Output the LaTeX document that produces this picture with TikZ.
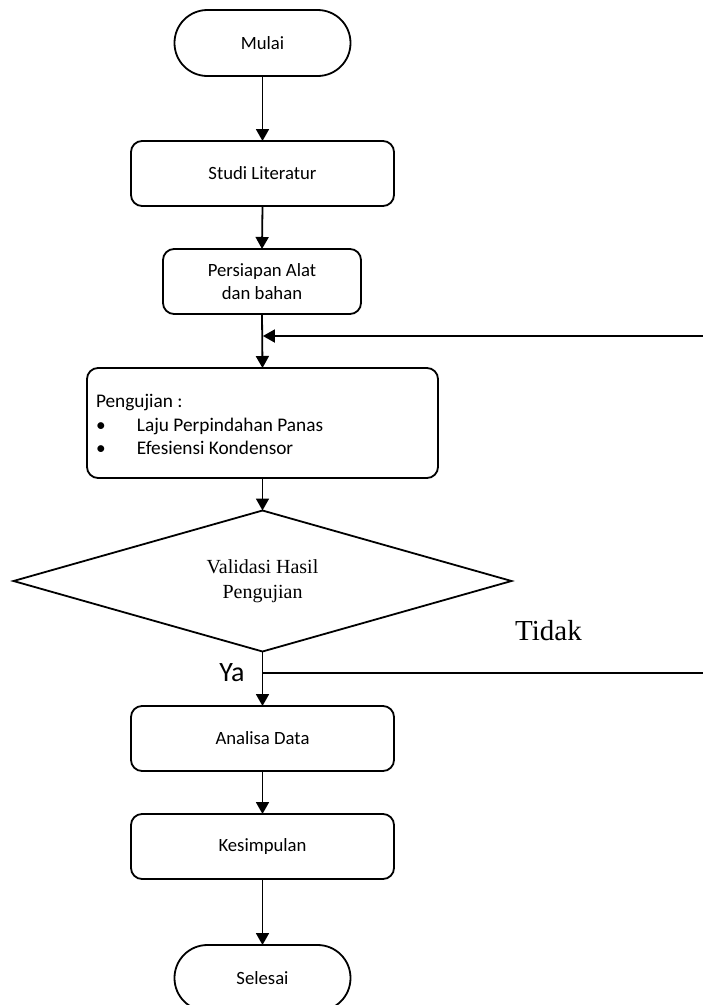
\documentclass[tikz,border=0pt]{standalone}
\usepackage{fontspec}
\setmainfont{Carlito}
\newfontfamily\timesf{Liberation Serif}
\usetikzlibrary{arrows.meta,shapes.geometric}
\tikzset{
  every node/.style={inner sep=0pt, outer sep=0pt},
  ln/.style={line width=1.8pt, draw=black},
  arr/.style={ln, -{Triangle[length=12pt,width=13pt]}},
  term/.style={draw, line width=1.8pt, rectangle, rounded corners=32.9pt, minimum width=176pt, minimum height=66pt, align=center, font=\fontsize{18.7}{23}\selectfont},
  proc/.style={draw, line width=1.8pt, rectangle, rounded corners=11pt, align=center, font=\fontsize{18.7}{23}\selectfont},
  dec/.style={draw, line width=1.8pt, diamond, minimum width=498pt, minimum height=141pt},
  dectext/.style={align=center, font=\timesf\fontsize{20}{25}\selectfont},
}
\begin{document}
\begin{tikzpicture}[x=1pt,y=-1pt]
\useasboundingbox (0,0) rectangle (703,1005);
\node[term] (mulai) at (262.5,43) {Mulai};
\node[proc, minimum width=263pt, minimum height=65pt] (studi) at (262.5,173.5) {Studi Literatur};
\node[proc, minimum width=198pt, minimum height=65pt] (pers) at (262,281.5) {Persiapan Alat\\dan bahan};
\node[proc, minimum width=351pt, minimum height=110pt] (peng) at (262.5,423) {};
\node[anchor=west, align=left, font=\fontsize{19.3}{23.3}\selectfont] (pengtxt) at ([xshift=9pt,yshift=-1.5pt]peng.west) {Pengujian :\\\makebox[41pt][l]{\textbullet}Laju Perpindahan Panas\\\makebox[41pt][l]{\textbullet}Efesiensi Kondensor};
\node[dec] (val) at (262.5,581) {};
\node[dectext] (valtxt) at (val.center) {Validasi Hasil\\Pengujian};
\node[proc, minimum width=263pt, minimum height=65pt] (anal) at (262.5,738.5) {Analisa Data};
\node[proc, minimum width=263pt, minimum height=65pt] (kes) at (262.5,846.5) {Kesimpulan};
\node[term] (sel) at (262.5,978) {Selesai};
\coordinate (r1) at (703,336);
\coordinate (r2) at (703,673);
\node[font=\fontsize{28}{30}\selectfont] (ya) at (232,673) {Ya};
\node[font=\timesf\fontsize{29}{31}\selectfont] (tidak) at (548.5,631) {Tidak};
\draw[arr] (mulai.south) -- (studi.north);
\draw[arr] (studi.south) -- (pers.north);
\draw[arr] (pers.south) -- (peng.north);
\draw[arr] (r1) -- ([xshift=0.9pt]r1 -| pers.south);
\draw[arr] (peng.south) -- (val.north);
\draw[arr] (val.south) -- (anal.north);
\draw[ln] (val.south |- r2) -- (r2);
\draw[arr] (anal.south) -- (kes.north);
\draw[arr] (kes.south) -- (sel.north);
\end{tikzpicture}
\end{document}
